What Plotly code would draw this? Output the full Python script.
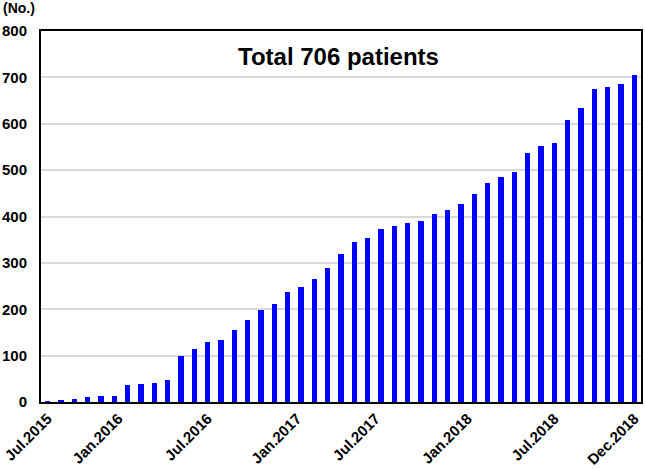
import plotly.graph_objects as go

# Cumulative number of patients (one bar per period)
values = [1, 3, 6, 11, 12, 14, 37, 39, 42, 47,
          99, 115, 129, 134, 156, 177, 198, 212, 237, 248,
          266, 289, 320, 345, 353, 372, 379, 386, 390, 405,
          413, 428, 448, 473, 486, 495, 537, 551, 559, 609,
          635, 674, 679, 686, 706]
positions = list(range(len(values)))
tick_labels = ["Jul.2015", "Jan.2016", "Jul.2016", "Jan.2017",
               "Jul.2017", "Jan.2018", "Jul.2018", "Dec.2018"]
tick_positions = [0, 5.3, 12.0, 18.7, 24.6, 31.5, 38.0, 44.0]
y_ticks = list(range(0, 801, 100))
title_text = "Total 706 patients"
unit_text = "(No.)"

FONT = "Arial, Liberation Sans, sans-serif"
n_last = len(values) - 1

fig = go.Figure()
fig.add_trace(go.Bar(
    x=positions, y=values, width=0.38,
    marker=dict(color="#0000ff", line=dict(width=0)),
    showlegend=False, hoverinfo="y",
))

fig.update_layout(
    width=645, height=469,
    margin=dict(l=41, r=4, t=31, b=67, autoexpand=False),
    paper_bgcolor="white", plot_bgcolor="white",
    font=dict(family=FONT, color="black"),
    bargap=0,
    xaxis=dict(
        range=[-0.5, n_last + 0.5], automargin=False,
        tickmode="array", tickvals=tick_positions, ticktext=tick_labels,
        tickangle=-45, tickfont=dict(size=15, family=FONT, weight="bold"),
        showgrid=False, zeroline=False,
        showline=True, linecolor="black", linewidth=2, mirror=True,
        ticks="",
    ),
    yaxis=dict(
        range=[0, 800], tickmode="array", tickvals=y_ticks, automargin=False,
        tickfont=dict(size=15, family=FONT, weight="bold"),
        showgrid=True, gridcolor="#d9d9d9", gridwidth=1.5,
        zeroline=False,
        showline=True, linecolor="black", linewidth=2, mirror=True,
        ticks="", ticklabelstandoff=9,
    ),
    annotations=[
        dict(text=title_text, xref="paper", yref="paper", x=0.495, y=0.93,
             xanchor="center", yanchor="middle", showarrow=False,
             font=dict(size=24, family=FONT, weight="bold")),
        dict(text=unit_text, xref="paper", yref="paper", x=-0.066, y=1.062,
             xanchor="left", yanchor="middle", showarrow=False,
             font=dict(size=14, family=FONT, weight="bold")),
    ],
)

fig.write_html("out.html",
               config={"displayModeBar": False},
               post_script="document.body.style.margin='0';document.body.style.overflow='hidden';")
